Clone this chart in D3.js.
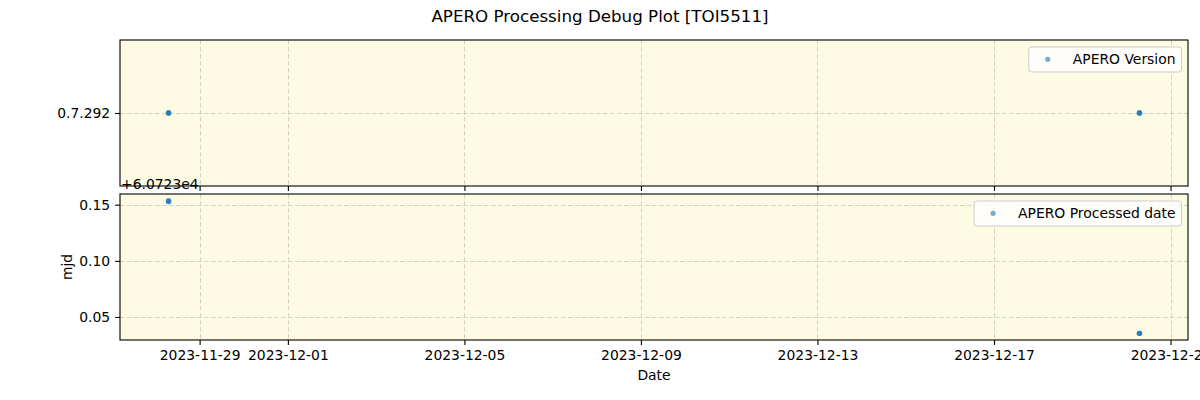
<!DOCTYPE html>
<html>
<head>
<meta charset="utf-8">
<script src="https://cdn.jsdelivr.net/npm/d3@7"></script>
<style>
  html, body { margin: 0; padding: 0; background: #ffffff; }
  svg { display: block; font-family: "DejaVu Sans", sans-serif; }
</style>
</head>
<body>
<div id="chart"></div>
<script>
// ---- data ----
const titleText = "APERO Processing Debug Plot [TOI5511]";
const obsDates = ["2023-11-28T07:06:00Z", "2023-11-28T07:06:00Z", "2023-11-28T07:06:00Z",
                  "2023-12-20T07:06:00Z", "2023-12-20T07:06:00Z", "2023-12-20T07:06:00Z"];
const versionValues = [7.292, 7.292, 7.292, 7.292, 7.292, 7.292];
const processedValues = [0.1536, 0.1527, 0.1531, 0.0354, 0.0354, 0.0354];
const processedOffsetText = "+6.0723e4";
const xTickLabels = ["2023-11-29", "2023-12-01", "2023-12-05", "2023-12-09",
                     "2023-12-13", "2023-12-17", "2023-12-21"];
const versionTicks = [7.292];
const versionTickLabels = ["0.7.292"];
const processedTicks = [0.05, 0.10, 0.15];
const legendTop = "APERO Version";
const legendBottom = "APERO Processed date";
const yLabelBottom = "mjd";
const xLabel = "Date";

// ---- layout ----
const W = 1200, H = 400;
const left = 120, right = 1188;
const panels = [{ top: 40, bottom: 186 }, { top: 194, bottom: 340 }];
const bg = "#fdfbe3";
const dotColor = "#1f77b4";
const fs = 13.9;

const svg = d3.select("#chart").append("svg").attr("width", W).attr("height", H);

const dates = obsDates.map(d => new Date(d));
const parseDay = d3.utcParse("%Y-%m-%d");
const xTickDates = xTickLabels.map(parseDay);

const xExt = d3.extent(dates);
const xPad = (xExt[1] - xExt[0]) * 0.05;
const x = d3.scaleUtc()
  .domain([new Date(+xExt[0] - xPad), new Date(+xExt[1] + xPad)])
  .range([left, right]);

function padded(vals) {
  const e = d3.extent(vals);
  let span = e[1] - e[0];
  if (span === 0) { return [e[0] - 0.001, e[1] + 0.001]; }
  return [e[0] - span * 0.05, e[1] + span * 0.05];
}

const yTop = d3.scaleLinear().domain(padded(versionValues)).range([panels[0].bottom, panels[0].top]);
const yBot = d3.scaleLinear().domain(padded(processedValues)).range([panels[1].bottom, panels[1].top]);

// title
svg.append("text").attr("x", W / 2).attr("y", 22).attr("text-anchor", "middle")
  .attr("font-size", 16.7).attr("fill", "#000").text(titleText);

function drawPanel(p, y, yTicks, vals, yFmt, showXLabels) {
  const g = svg.append("g");
  g.append("rect").attr("x", left).attr("y", p.top).attr("width", right - left)
    .attr("height", p.bottom - p.top).attr("fill", bg);

  // grid
  const grid = g.append("g").attr("stroke", "#b0b0b0").attr("stroke-opacity", 0.55)
    .attr("stroke-width", 1).attr("stroke-dasharray", "4.5,2.5");
  grid.selectAll("line.vx").data(xTickDates).enter().append("line")
    .attr("x1", d => Math.round(x(d)) + 0.5).attr("x2", d => Math.round(x(d)) + 0.5)
    .attr("y1", p.top).attr("y2", p.bottom);
  grid.selectAll("line.hy").data(yTicks).enter().append("line")
    .attr("x1", left).attr("x2", right)
    .attr("y1", d => Math.round(y(d)) + 0.5).attr("y2", d => Math.round(y(d)) + 0.5);

  // points
  g.append("g").selectAll("circle").data(vals).enter().append("circle")
    .attr("cx", (d, i) => x(dates[i])).attr("cy", d => y(d))
    .attr("r", 2.7).attr("fill", dotColor).attr("fill-opacity", 0.6);

  // axes
  const xAxis = d3.axisBottom(x).tickValues(xTickDates).tickSizeOuter(0).tickSize(4.9).tickPadding(4.9)
    .tickFormat(showXLabels ? d3.utcFormat("%Y-%m-%d") : () => "");
  const xa = g.append("g").attr("transform", `translate(0,${p.bottom})`).call(xAxis);
  xa.select(".domain").remove();
  xa.selectAll("line").attr("stroke-width", 1.1);
  xa.selectAll("text").attr("font-size", fs).attr("font-family", "DejaVu Sans").attr("fill", "#000");

  const yAxis = d3.axisLeft(y).tickValues(yTicks).tickSizeOuter(0).tickSize(4.9).tickPadding(4.9)
    .tickFormat(yFmt);
  const ya = g.append("g").attr("transform", `translate(${left},0)`).call(yAxis);
  ya.select(".domain").remove();
  ya.selectAll("line").attr("stroke-width", 1.1);
  ya.selectAll("text").attr("font-size", fs).attr("font-family", "DejaVu Sans").attr("fill", "#000");

  // frame
  g.append("rect").attr("x", left).attr("y", p.top).attr("width", right - left)
    .attr("height", p.bottom - p.top).attr("fill", "none").attr("stroke", "#000").attr("stroke-width", 1.1);
  return g;
}

drawPanel(panels[0], yTop, versionTicks, versionValues, (d, i) => versionTickLabels[i], false);
drawPanel(panels[1], yBot, processedTicks, processedValues, d3.format(".2f"), true);

// offset text
svg.append("text").attr("x", left + 1).attr("y", 189).attr("font-size", fs).attr("fill", "#000")
  .text(processedOffsetText);

// y label
svg.append("text").attr("transform", `translate(72,${(panels[1].top + panels[1].bottom) / 2}) rotate(-90)`)
  .attr("text-anchor", "middle").attr("font-size", fs).attr("fill", "#000").text(yLabelBottom);

// x label
svg.append("text").attr("x", (left + right) / 2).attr("y", 380).attr("text-anchor", "middle")
  .attr("font-size", fs).attr("fill", "#000").text(xLabel);

// legends
function legend(p, label) {
  const g = svg.append("g");
  const t = g.append("text").attr("font-size", fs).attr("fill", "#000").text(label);
  const tw = t.node().getComputedTextLength();
  const bw = tw + 50;
  const bx = right - 6.5 - bw;
  const by = p.top + 7;
  g.insert("rect", "text").attr("x", bx).attr("y", by).attr("width", bw).attr("height", 25)
    .attr("rx", 3).attr("fill", "#ffffff").attr("fill-opacity", 0.8)
    .attr("stroke", "#cccccc").attr("stroke-width", 1);
  g.append("circle").attr("cx", bx + 19).attr("cy", by + 12.3).attr("r", 2.6)
    .attr("fill", dotColor).attr("fill-opacity", 0.6);
  t.attr("x", bx + 44).attr("y", by + 17.2);
}
legend(panels[0], legendTop);
legend(panels[1], legendBottom);
</script>
</body>
</html>
